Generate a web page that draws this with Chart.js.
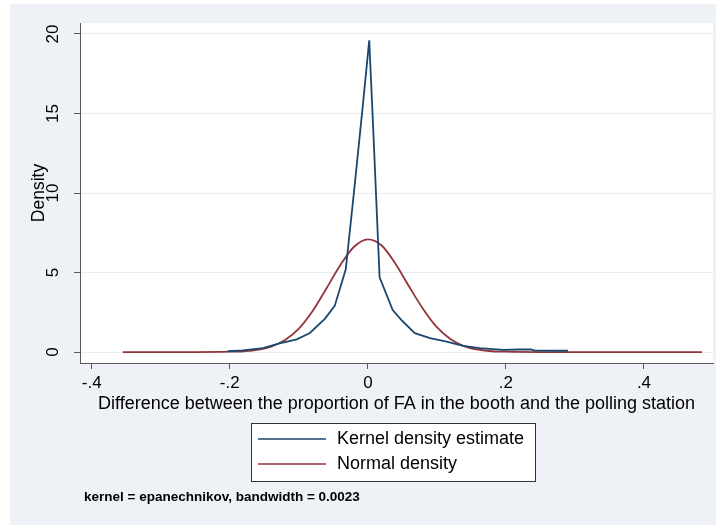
<!DOCTYPE html>
<html>
<head>
<meta charset="utf-8">
<script src="https://cdn.jsdelivr.net/npm/chart.js@4.4.0/dist/chart.umd.min.js"></script>
<style>
  body { margin: 0; background: #ffffff; }
  canvas { display: block; }
</style>
</head>
<body>
<canvas id="density" width="716" height="525"></canvas>
<script>
// kernel density estimate
var kdeX = [-0.203, -0.181, -0.152, -0.128, -0.103, -0.084, -0.062, -0.048, -0.032, -0.020, -0.008, 0.002,
  0.008, 0.017, 0.036, 0.050, 0.068, 0.090, 0.114, 0.138, 0.162, 0.196, 0.220, 0.236, 0.242, 0.290];
var kdeY = [0.05, 0.10, 0.25, 0.55, 0.80, 1.20, 2.10, 2.90, 5.20, 10.1, 15.2, 19.6,
  13.8, 4.70, 2.64, 1.95, 1.19, 0.87, 0.65, 0.38, 0.25, 0.14, 0.16, 0.16, 0.09, 0.08];

// normal density overlay
var normX = [-0.355, -0.30, -0.25, -0.20, -0.18, -0.16, -0.14, -0.12, -0.10, -0.08, -0.06, -0.04, -0.02, 0.00,
  0.02, 0.04, 0.06, 0.08, 0.10, 0.12, 0.14, 0.16, 0.18, 0.20, 0.25, 0.30, 0.40, 0.484];
var normY = [0.00, 0.00, 0.00, 0.02, 0.05, 0.13, 0.34, 0.75, 1.47, 2.58, 4.00, 5.46, 6.62, 7.09,
  6.70, 5.55, 4.10, 2.71, 1.56, 0.80, 0.36, 0.15, 0.05, 0.02, 0.00, 0.00, 0.00, 0.00];

var xTicks = [-0.4, -0.2, 0, 0.2, 0.4];
var yTicks = [0, 5, 10, 15, 20];
var seriesNames = ["Kernel density estimate", "Normal density"];
var xTitle = "Difference between the proportion of FA in the booth and the polling station";
var yTitle = "Density";
var noteText = "kernel = epanechnikov, bandwidth = 0.0023";

var FONT = "'Liberation Sans', Arial, sans-serif";
var outerBg = "#eef1f6";
var axisColor = "#5a5a5a";
var colors = ["#1a476f", "#90353b"];

function toPoints(xs, ys) {
  var pts = [];
  for (var i = 0; i < xs.length; i++) {
    pts.push({ x: xs[i], y: ys[i] });
  }
  return pts;
}

function fmtTick(v) {
  if (Math.abs(v) < 1e-9) {
    return "0";
  }
  var s = String(Math.round(v * 10) / 10);
  return s.replace("0.", ".");
}

// background, y labels, titles, legend box and note, Stata style
var stataLook = {
  id: "stataLook",
  beforeDraw: function(chart) {
    var ctx = chart.ctx;
    var a = chart.chartArea;
    ctx.save();
    ctx.fillStyle = "#ffffff";
    ctx.fillRect(0, 0, chart.width, chart.height);
    ctx.fillStyle = outerBg;
    ctx.fillRect(10, 4, chart.width - 10, chart.height - 4);
    ctx.fillStyle = "#ffffff";
    ctx.fillRect(a.left, a.top, a.right - a.left, a.bottom - a.top);
    ctx.restore();
  },
  afterDraw: function(chart) {
    var ctx = chart.ctx;
    var a = chart.chartArea;
    var yScale = chart.scales.y;
    ctx.save();
    ctx.fillStyle = "#000000";
    ctx.textAlign = "center";
    ctx.textBaseline = "middle";

    // y tick labels, turned like the original
    ctx.font = "17px " + FONT;
    yTicks.forEach(function(v) {
      var py = yScale.getPixelForValue(v);
      ctx.save();
      ctx.translate(a.left - 27, py);
      ctx.rotate(-Math.PI / 2);
      ctx.fillText(String(v), 0, 0);
      ctx.restore();
    });

    ctx.font = "17.5px " + FONT;
    ctx.save();
    ctx.translate(a.left - 41, (a.top + a.bottom) / 2);
    ctx.rotate(-Math.PI / 2);
    ctx.fillText(yTitle, 0, 0);
    ctx.restore();

    ctx.font = "18px " + FONT;
    ctx.fillText(xTitle, (a.left + a.right) / 2, a.bottom + 41);

    // legend
    var bx = 251, by = 423, bw = 284, bh = 58;
    ctx.fillStyle = "#ffffff";
    ctx.fillRect(bx, by, bw, bh);
    ctx.strokeStyle = "#333333";
    ctx.lineWidth = 1;
    ctx.strokeRect(bx + 0.5, by + 0.5, bw, bh);
    ctx.textAlign = "left";
    ctx.font = "18px " + FONT;
    for (var i = 0; i < seriesNames.length; i++) {
      var ly = by + 16 + i * 25;
      ctx.strokeStyle = colors[i];
      ctx.lineWidth = 1.6;
      ctx.beginPath();
      ctx.moveTo(bx + 7, ly);
      ctx.lineTo(bx + 75, ly);
      ctx.stroke();
      ctx.fillStyle = "#000000";
      ctx.fillText(seriesNames[i], bx + 86, ly);
    }

    // note
    ctx.font = "bold 13.5px " + FONT;
    ctx.fillText(noteText, 84, 497);
    ctx.restore();
  }
};

var ctx = document.getElementById("density");
new Chart(ctx, {
  type: "line",
  data: {
    datasets: [
      {
        label: seriesNames[0],
        data: toPoints(kdeX, kdeY),
        borderColor: colors[0],
        borderWidth: 1.8,
        pointRadius: 0,
        tension: 0,
        fill: false
      },
      {
        label: seriesNames[1],
        data: toPoints(normX, normY),
        borderColor: colors[1],
        borderWidth: 1.8,
        pointRadius: 0,
        cubicInterpolationMode: "monotone",
        fill: false
      }
    ]
  },
  options: {
    responsive: false,
    animation: false,
    devicePixelRatio: 1,
    layout: { padding: { left: 10, top: 23, right: 3, bottom: 102 } },
    plugins: {
      legend: { display: false },
      tooltip: { enabled: false }
    },
    scales: {
      x: {
        type: "linear",
        min: -0.417,
        max: 0.5,
        afterBuildTicks: function(scale) {
          scale.ticks = xTicks.map(function(v) { return { value: v }; });
        },
        afterFit: function(scale) {
          scale.height = 60;
        },
        grid: {
          drawOnChartArea: false,
          drawTicks: true,
          tickLength: 6,
          color: axisColor,
          tickColor: axisColor
        },
        border: { display: true, color: axisColor, width: 1 },
        ticks: {
          padding: 4,
          maxRotation: 0,
          autoSkip: false,
          color: "#000000",
          font: { family: FONT, size: 17 },
          callback: function(value) { return fmtTick(value); }
        }
      },
      y: {
        type: "linear",
        min: -0.69,
        max: 20.69,
        afterBuildTicks: function(scale) {
          scale.ticks = yTicks.map(function(v) { return { value: v }; });
        },
        afterFit: function(scale) {
          scale.width = 70;
        },
        grid: {
          drawTicks: true,
          tickLength: 6,
          color: "#e6edf4",
          tickColor: axisColor
        },
        border: { display: true, color: axisColor, width: 1 },
        ticks: { display: false }
      }
    }
  },
  plugins: [stataLook]
});
</script>
</body>
</html>
